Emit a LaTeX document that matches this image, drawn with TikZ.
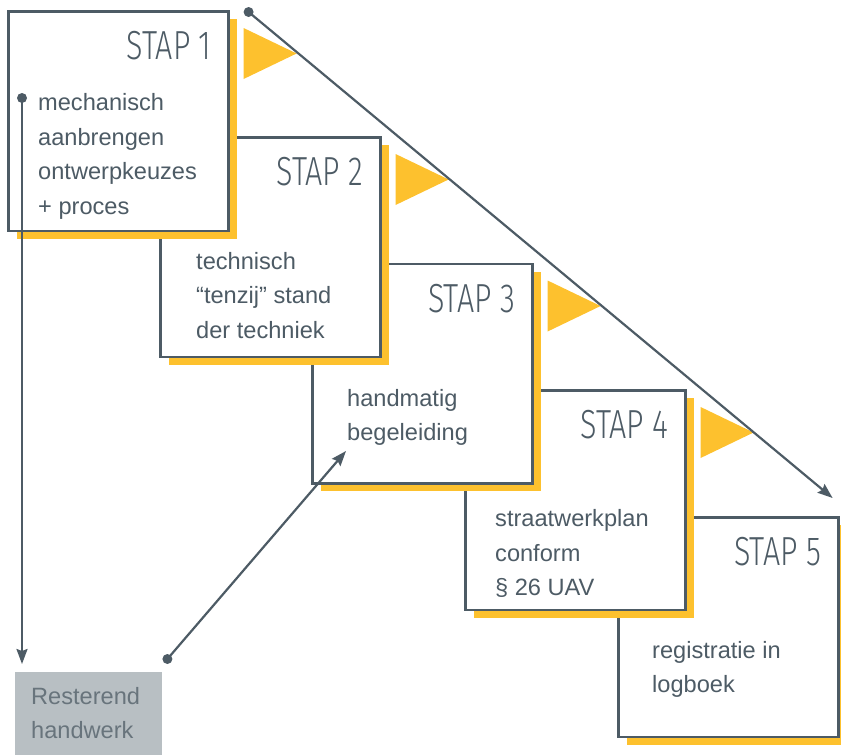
\documentclass[tikz,border=0pt]{standalone}
\usepackage{fontspec}
\setmainfont{Liberation Sans}
\newfontfamily\stapfont[FakeStretch=0.75, UprightFont={* Light}]{Fira Sans}
\usetikzlibrary{calc,arrows.meta,shadows}
\definecolor{slate}{HTML}{4D5B65}
\definecolor{ylw}{HTML}{FDC12E}
\definecolor{restgray}{HTML}{B8BFC3}
\begin{document}
\begin{tikzpicture}[x=1pt,y=-1pt,
  stepbox/.style={draw=slate, line width=2.6pt, fill=white,
    minimum width=220pt, minimum height=219.5pt, anchor=north west, inner sep=0pt,
    drop shadow={shadow xshift=9pt, shadow yshift=-8pt, fill=ylw, opacity=1}},
  staplabel/.style={anchor=base east, inner sep=0pt, text=slate,
    font=\stapfont\fontsize{40.6}{40.6}\selectfont},
  bodytext/.style={anchor=north west, inner sep=0pt, align=left, text=slate,
    font=\fontsize{23.6}{34.5}\selectfont},
  flag/.style={fill=ylw},
  conn/.style={draw=slate, line width=2.2pt},
  arr/.style={conn, -{Stealth[length=15pt,width=11pt,inset=2pt]}},
  dotnode/.style={circle, fill=slate, inner sep=0pt, minimum size=10pt},
  restbox/.style={fill=restgray, anchor=north west, text=slate!85!white,
    inner xsep=16pt, inner ysep=8pt, text width=115pt, align=left,
    font=\fontsize{23.6}{34.5}\selectfont}
]
\useasboundingbox (0,0) rectangle (841,755);

% boxes (drawn from back to front)
\node[stepbox] (b5) at (617,516) {};
\node[stepbox] (b4) at (464,389) {};
\node[stepbox] (b3) at (311,262.5) {};
\node[stepbox] (b2) at (159,136) {};
\node[stepbox] (b1) at (7,10) {};

% flags
\foreach \b in {b1,b2,b3,b4}{
  \fill[flag] ($(\b.north east)+(14,18)$) -- ++(0,51) -- ++(53,-25.5) -- cycle;
}

% labels
\node[staplabel] (l1) at ($(b1.north east)+(-18,49.5)$) {STAP 1};
\node[staplabel] (l2) at ($(b2.north east)+(-18,49.5)$) {STAP 2};
\node[staplabel] (l3) at ($(b3.north east)+(-18,49.5)$) {STAP 3};
\node[staplabel] (l4) at ($(b4.north east)+(-18,49.5)$) {STAP 4};
\node[staplabel] (l5) at ($(b5.north east)+(-18,49.5)$) {STAP 5};

\node[bodytext] (t1) at ($(b1.north west)+(31,76.5)$) {\strut mechanisch\\aanbrengen\\ontwerpkeuzes\\+ proces};
\node[bodytext] (t2) at ($(b2.north west)+(37,109)$) {\strut technisch\\“tenzij” stand\\der techniek};
\node[bodytext] (t3) at ($(b3.north west)+(36,119.5)$) {\strut handmatig\\begeleiding};
\node[bodytext] (t4) at ($(b4.north west)+(31,113.5)$) {\strut straatwerkplan\\conform\\§ 26 UAV};
\node[bodytext] (t5) at ($(b5.north west)+(35,118)$) {\strut registratie in\\logboek};

% remaining manual work
\node[restbox] (rest) at (15,672) {\strut Resterend\\handwerk\strut};

% main diagonal
\node[dotnode] (d0) at ($(b1.north east)+(19,2)$) {};
\coordinate (e0) at ($(b5.north east)+(-7,-18)$);
\draw[arr] (d0.center) -- (e0);

% left vertical
\node[dotnode] (d1) at ($(b1.north west)+(15,88)$) {};
\draw[arr] (d1.center) -- ($(d1 |- rest.north)+(0,-8)$);

% lower diagonal
\node[dotnode] (d2) at ($(rest.north east)+(5,-13)$) {};
\coordinate (e2) at ($(b3.north west)+(35,188.5)$);
\draw[arr] (d2.center) -- (e2);
\end{tikzpicture}
\end{document}
